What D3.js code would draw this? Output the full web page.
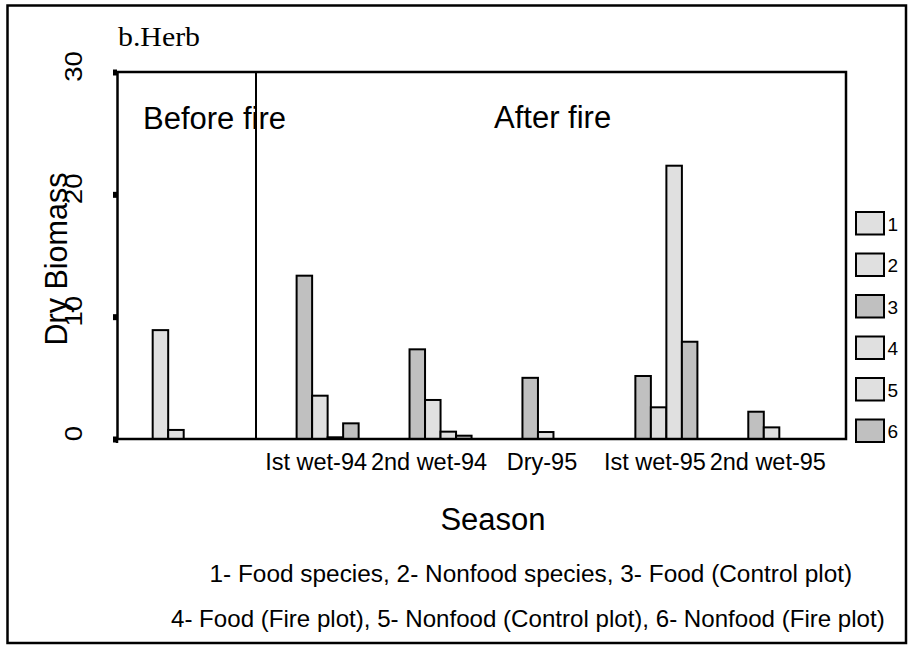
<!DOCTYPE html>
<html>
<head>
<meta charset="utf-8">
<script src="https://cdn.jsdelivr.net/npm/d3@7"></script>
<style>
  html, body { margin: 0; padding: 0; background: #fff; }
  svg { display: block; }
  text { font-family: "Liberation Sans", Arial, Helvetica, sans-serif; fill: #000; }
</style>
</head>
<body>
<svg id="chart" width="915" height="649"></svg>
<script>
// Seasons (the first cluster is the pre-fire sampling, left unlabeled)
const categories = ["", "Ist wet-94", "2nd wet-94", "Dry-95", "Ist wet-95", "2nd wet-95"];
const seriesKeys = ["1", "2", "3", "4", "5", "6"];

// Dry biomass per season for each series
const foodSpecies      = [8.9, 0, 0, 0, 0, 0];
const nonfoodSpecies   = [0.74, 0, 0, 0, 0, 0];
const foodControl      = [0, 13.35, 7.33, 5.0, 5.15, 2.23];
const foodFire         = [0, 3.54, 3.19, 0.57, 2.59, 0.95];
const nonfoodControl   = [0, 0.14, 0.6, 0, 22.34, 0];
const nonfoodFire      = [0, 1.28, 0.27, 0, 7.95, 0];

const yTicks = [0, 10, 20, 30];
const seriesFills = ["#e0e0e0", "#e0e0e0", "#c0c0c0", "#e0e0e0", "#e0e0e0", "#c0c0c0"];
const footnotes = [
  "1- Food species, 2- Nonfood species, 3- Food (Control plot)",
  "4- Food (Fire plot), 5- Nonfood (Control plot), 6- Nonfood (Fire plot)"
];

const seriesValues = [foodSpecies, nonfoodSpecies, foodControl, foodFire, nonfoodControl, nonfoodFire];

const svg = d3.select("#chart");

// outer border
svg.append("rect")
  .attr("x", 7.5).attr("y", 5.5).attr("width", 898.5).attr("height", 637.5)
  .attr("fill", "none").attr("stroke", "#000").attr("stroke-width", 2.5);

const plot = { left: 117, right: 846, top: 72, bottom: 439 };

const x0 = d3.scaleBand()
  .domain(categories.map((c, i) => i))
  .range([plot.left, plot.right])
  .paddingInner(0.176)
  .paddingOuter(0.316);

const x1 = d3.scaleBand()
  .domain(seriesKeys)
  .range([0, x0.bandwidth()]);

const y = d3.scaleLinear().domain([0, 30]).range([plot.bottom, plot.top]);

// title
svg.append("text")
  .attr("x", 118).attr("y", 46)
  .attr("textLength", 82).attr("lengthAdjust", "spacingAndGlyphs")
  .style("font-family", "'Liberation Serif', 'Times New Roman', serif")
  .style("font-size", "28px")
  .text("b.Herb");

// bars
const barData = [];
categories.forEach((c, ci) => {
  seriesValues.forEach((vals, si) => {
    if (vals[ci] > 0) barData.push({ ci, key: seriesKeys[si], si, value: vals[ci] });
  });
});

svg.append("g").selectAll("rect")
  .data(barData)
  .join("rect")
  .attr("x", d => x0(d.ci) + x1(d.key))
  .attr("y", d => y(d.value))
  .attr("width", x1.bandwidth())
  .attr("height", d => y(0) - y(d.value))
  .attr("fill", d => seriesFills[d.si])
  .attr("stroke", "#000")
  .attr("stroke-width", 2);

// plot frame: top and right edges, bottom axis line
const frame = svg.append("g").attr("stroke", "#000").attr("stroke-width", 2.5).attr("fill", "none");
frame.append("path")
  .attr("d", `M${plot.left},${plot.top}H${plot.right}V${plot.bottom}H${plot.left - 4}`);
frame.append("line")
  .attr("x1", plot.left).attr("x2", plot.left)
  .attr("y1", plot.bottom).attr("y2", plot.bottom + 4);

// before/after fire divider
svg.append("line")
  .attr("x1", 256).attr("x2", 256)
  .attr("y1", plot.top).attr("y2", plot.bottom)
  .attr("stroke", "#000").attr("stroke-width", 2);

// y axis
const yAxis = svg.append("g")
  .attr("transform", `translate(${plot.left},0)`)
  .call(d3.axisLeft(y).tickValues(yTicks).tickSize(4).tickSizeOuter(0).tickFormat(d3.format("d")));
yAxis.select(".domain").attr("stroke-width", 2.5);
yAxis.selectAll(".tick line").attr("stroke-width", 6);
yAxis.selectAll(".tick text")
  .attr("x", null).attr("dy", null)
  .attr("text-anchor", "middle")
  .attr("transform", "translate(-35,-6) rotate(-90) scale(1.15,1)")
  .style("font-family", "'Liberation Sans', Arial, sans-serif")
  .style("font-size", "24px")
  .attr("fill", "#000");

// category labels
svg.append("g").selectAll("text")
  .data(categories.map((c, i) => ({ c, i })).filter(d => d.c))
  .join("text")
  .attr("x", d => x0(d.i) + x0.bandwidth() / 2 + 4)
  .attr("y", 469.5)
  .attr("text-anchor", "middle")
  .style("font-size", "23.5px")
  .text(d => d.c);

// annotations
svg.append("text").attr("x", 143).attr("y", 129).style("font-size", "31px").text("Before fire");
svg.append("text").attr("x", 494).attr("y", 128).style("font-size", "31px").text("After fire");

// axis titles
svg.append("text")
  .attr("transform", "translate(66.5,259) rotate(-90)")
  .attr("text-anchor", "middle")
  .style("font-size", "30.5px")
  .text("Dry Biomass");
svg.append("text")
  .attr("x", 493).attr("y", 530)
  .attr("text-anchor", "middle")
  .style("font-size", "31px")
  .text("Season");

// legend
const legend = svg.append("g").selectAll("g")
  .data(seriesKeys)
  .join("g")
  .attr("transform", (d, i) => `translate(856,${212 + i * 41.5})`);
legend.append("rect")
  .attr("width", 28).attr("height", 22.5)
  .attr("fill", (d, i) => seriesFills[i])
  .attr("stroke", "#000").attr("stroke-width", 2);
legend.append("text")
  .attr("x", 31.5).attr("y", 18.5)
  .style("font-size", "19px")
  .text(d => d);

// footnotes
svg.append("text").attr("x", 209.5).attr("y", 582).style("font-size", "24.4px").text(footnotes[0]);
svg.append("text").attr("x", 171).attr("y", 627).style("font-size", "24.1px").text(footnotes[1]);
</script>
</body>
</html>
